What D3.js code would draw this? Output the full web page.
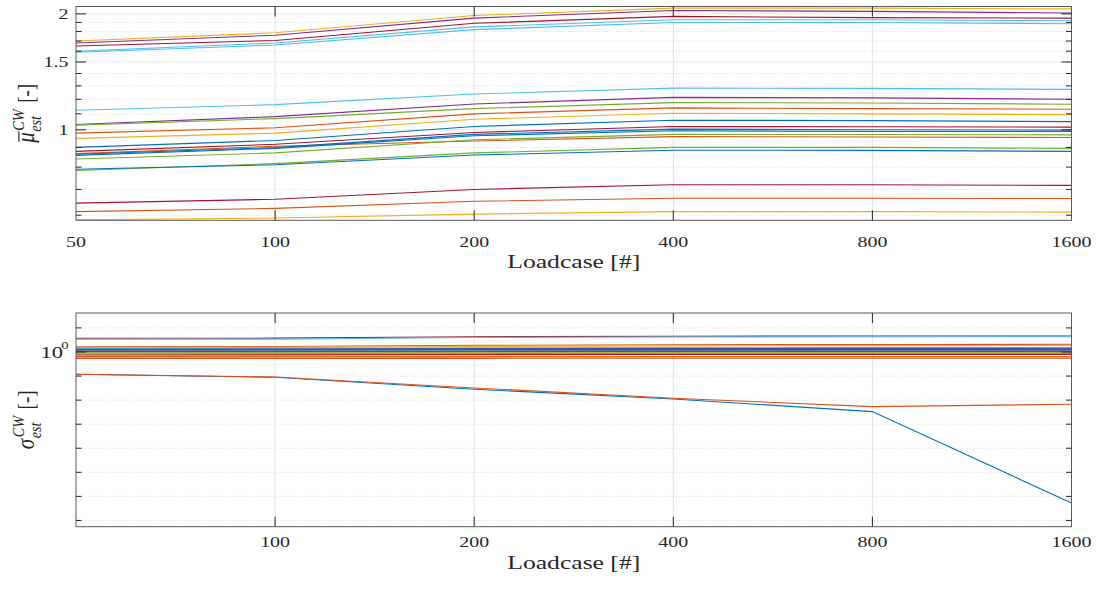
<!DOCTYPE html>
<html><head><meta charset="utf-8">
<script src="https://cdn.jsdelivr.net/npm/d3@7"></script>
<style>
body{margin:0;background:#fff;}
svg{display:block;}
text{font-family:"Liberation Serif","DejaVu Serif",serif;fill:#262626;}
</style>
</head><body>
<svg id="chart" width="1096" height="590"></svg>
<script>
// ---------- data ----------
const loadcases = [50, 100, 200, 400, 800, 1600];
const xTicksTop = [50, 100, 200, 400, 800, 1600];
const xTicksBottom = [100, 200, 400, 800, 1600];
const muMajorTicks = [1, 1.5, 2];
const muMinorTicks = [0.6, 0.7, 0.8, 0.9, 1.1, 1.2, 1.3, 1.4, 1.6, 1.7, 1.8, 1.9];
const sigmaMajorTicks = [1];
const sigmaMinorTicks = [1e1, 1e-1, 1e-2, 1e-3, 1e-4, 1e-5, 1e-6, 1e-7];
const xLabel = "Loadcase [#]";

const palette = ["#0072BD", "#D95319", "#EDB120", "#7E2F8E", "#77AC30", "#4DBEEE", "#A2142F"];

const muColorIdx = [2, 3, 6, 5, 5, 5, 3, 4, 1, 2, 0, 6, 1, 0, 0, 4, 4, 0, 6, 1, 2];
const muValues = [
  [1.70, 1.786, 1.98, 2.07, 2.07, 2.06],
  [1.68, 1.76, 1.95, 2.04, 2.03, 2.01],
  [1.65, 1.706, 1.89, 1.97, 1.955, 1.95],
  [1.60, 1.68, 1.85, 1.93, 1.93, 1.92],
  [1.59, 1.66, 1.82, 1.90, 1.90, 1.885],
  [1.124, 1.162, 1.238, 1.283, 1.281, 1.273],
  [1.032, 1.082, 1.167, 1.214, 1.21, 1.20],
  [1.028, 1.069, 1.135, 1.176, 1.174, 1.165],
  [0.98, 1.012, 1.10, 1.14, 1.135, 1.131],
  [0.95, 0.98, 1.065, 1.104, 1.10, 1.095],
  [0.90, 0.938, 1.02, 1.059, 1.056, 1.05],
  [0.879, 0.917, 0.984, 1.02, 1.018, 1.016],
  [0.867, 0.906, 0.935, 0.96, 0.958, 0.955],
  [0.864, 0.899, 0.973, 1.004, 1.0, 0.998],
  [0.858, 0.895, 0.965, 0.994, 0.99, 0.99],
  [0.840, 0.871, 0.942, 0.973, 0.972, 0.97],
  [0.784, 0.817, 0.871, 0.90, 0.90, 0.895],
  [0.79, 0.811, 0.86, 0.885, 0.884, 0.879],
  [0.645, 0.66, 0.70, 0.72, 0.72, 0.717],
  [0.613, 0.625, 0.652, 0.664, 0.664, 0.663],
  [0.584, 0.59, 0.604, 0.613, 0.613, 0.611]
];

const sigmaColorIdx = [0, 1, 6, 5, 1, 2, 5, 0, 3, 0, 6, 5, 3, 0, 4, 2, 4, 6, 1, 2, 1];
const sigmaValues = [
  [0.119, 0.0891, 0.0283, 0.0112, 0.00333, 5.3e-7],
  [0.119, 0.0918, 0.0321, 0.0120, 0.00537, 0.00676],
  [3.70, 3.75, 4.3, 4.5, 4.6, 4.6],
  [3.37, 3.42, 4.0, 4.2, 4.3, 4.3],
  [1.66, 1.68, 1.90, 2.0, 2.05, 2.09],
  [1.54, 1.56, 1.70, 1.80, 1.84, 1.86],
  [1.42, 1.43, 1.48, 1.52, 1.53, 1.54],
  [1.33, 1.34, 1.38, 1.40, 1.41, 1.42],
  [1.27, 1.28, 1.30, 1.32, 1.33, 1.33],
  [1.21, 1.22, 1.24, 1.26, 1.27, 1.27],
  [1.15, 1.16, 1.18, 1.20, 1.21, 1.21],
  [1.10, 1.11, 1.13, 1.14, 1.15, 1.15],
  [1.05, 1.06, 1.08, 1.09, 1.10, 1.10],
  [1.0, 1.01, 1.03, 1.04, 1.05, 1.05],
  [0.926, 0.93, 0.94, 0.95, 0.953, 0.953],
  [0.883, 0.888, 0.90, 0.905, 0.909, 0.909],
  [0.826, 0.835, 0.85, 0.86, 0.867, 0.867],
  [0.751, 0.76, 0.775, 0.785, 0.788, 0.788],
  [0.65, 0.65, 0.65, 0.65, 0.65, 0.65],
  [0.591, 0.595, 0.60, 0.602, 0.603, 0.603],
  [0.537, 0.54, 0.545, 0.547, 0.548, 0.548]
];

// ---------- layout ----------
const svg = d3.select("#chart");
const L = 76, R = 1071.5;
const TICK_FS = 15, SX = 1.33;
const x = d3.scaleLog().domain([50, 1600]).range([L, R]);

const panels = [
  {
    id: "mu", top: 6.5, bottom: 220.3, domain: [0.582, 2.09],
    values: muValues, colors: muColorIdx,
    major: muMajorTicks, minor: muMinorTicks, xticks: xTicksTop,
    labelBase: 246.7, xLabelBase: 268.3
  },
  {
    id: "sigma", top: 313, bottom: 526.7, domain: [Math.pow(10, -7.26), Math.pow(10, 1.62)],
    values: sigmaValues, colors: sigmaColorIdx,
    major: sigmaMajorTicks, minor: sigmaMinorTicks, xticks: xTicksBottom,
    labelBase: 546.7, xLabelBase: 568.5
  }
];

function stretchedText(g, px, py, str, anchor, fs, sx) {
  return g.append("text")
    .attr("transform", `translate(${px},${py}) scale(${sx},1)`)
    .attr("text-anchor", anchor)
    .attr("font-size", fs)
    .text(str);
}

panels.forEach(p => {
  const y = d3.scaleLog().domain(p.domain).range([p.bottom, p.top]);
  p.y = y;
  const g = svg.append("g");

  svg.append("clipPath").attr("id", "clip-" + p.id)
    .append("rect").attr("x", L).attr("y", p.top).attr("width", R - L).attr("height", p.bottom - p.top);

  // grid
  const grid = g.append("g");
  grid.selectAll("line.vx").data(p.xticks.filter(t => t > 50 && t < 1600)).join("line")
    .attr("x1", d => x(d)).attr("x2", d => x(d)).attr("y1", p.top).attr("y2", p.bottom)
    .attr("stroke", "#e2e2e2").attr("stroke-width", 1);
  grid.selectAll("line.my").data(p.minor).join("line")
    .attr("x1", L).attr("x2", R).attr("y1", d => y(d)).attr("y2", d => y(d))
    .attr("stroke", "#cfcfcf").attr("stroke-width", 0.8).attr("stroke-dasharray", "1,2");
  grid.selectAll("line.My").data(p.major).join("line")
    .attr("x1", L).attr("x2", R).attr("y1", d => y(d)).attr("y2", d => y(d))
    .attr("stroke", "#e6e6e6").attr("stroke-width", 1);

  // series
  const line = d3.line().x((d, i) => x(loadcases[i])).y(d => y(d));
  g.append("g").attr("clip-path", `url(#clip-${p.id})`)
    .selectAll("path").data(p.values).join("path")
    .attr("d", d => line(d))
    .attr("fill", "none")
    .attr("stroke", (d, i) => palette[p.colors[i]])
    .attr("stroke-width", 1.1);

  // box
  g.append("rect").attr("x", L).attr("y", p.top).attr("width", R - L).attr("height", p.bottom - p.top)
    .attr("fill", "none").attr("stroke", "#5a5a5a").attr("stroke-width", 1);

  // ticks
  const tk = g.append("g").attr("stroke", "#262626").attr("stroke-width", 1);
  p.xticks.filter(t => t > 50 && t < 1600).forEach(t => {
    tk.append("line").attr("x1", x(t)).attr("x2", x(t)).attr("y1", p.bottom).attr("y2", p.bottom - 10);
    tk.append("line").attr("x1", x(t)).attr("x2", x(t)).attr("y1", p.top).attr("y2", p.top + 10);
  });
  p.major.forEach(t => {
    tk.append("line").attr("x1", L).attr("x2", L + 10).attr("y1", y(t)).attr("y2", y(t));
    tk.append("line").attr("x1", R).attr("x2", R - 10).attr("y1", y(t)).attr("y2", y(t));
  });
  p.minor.forEach(t => {
    tk.append("line").attr("x1", L).attr("x2", L + 5.5).attr("y1", y(t)).attr("y2", y(t));
    tk.append("line").attr("x1", R).attr("x2", R - 5.5).attr("y1", y(t)).attr("y2", y(t));
  });

  // x tick labels
  p.xticks.forEach(t => stretchedText(g, x(t), p.labelBase, String(t), "middle", TICK_FS, SX));

  // x label
  g.append("text").attr("x", (L + R) / 2).attr("y", p.xLabelBase)
    .attr("text-anchor", "middle").attr("font-size", 18)
    .attr("textLength", 133).attr("lengthAdjust", "spacingAndGlyphs")
    .text(xLabel);
});

// y tick labels
const pm = panels[0], ps = panels[1];
pm.major.forEach(t => stretchedText(svg, 68.5, pm.y(t) + 5, String(t), "end", TICK_FS, SX));
ps.major.forEach(t => {
  stretchedText(svg, 63, ps.y(t) + 6, "10", "end", 17, SX);
  stretchedText(svg, 68.5, ps.y(t) - 2.5, "0", "end", 11, SX);
});

// y axis labels (rotated, with sub/superscripts)
function yLabel(cx, cy, sym, bar) {
  const outer = svg.append("g").attr("transform", `translate(${cx},${cy}) rotate(-90) scale(1,1.2)`);
  const g = outer.append("g");
  const fs = 21;
  const main = g.append("text").attr("x", 0).attr("y", 0).attr("font-size", fs).attr("font-style", "italic").text(sym);
  const w = main.node().getComputedTextLength();
  if (bar) {
    g.append("line").attr("x1", 1).attr("x2", w + 1).attr("y1", -fs * 0.6).attr("y2", -fs * 0.6)
      .attr("stroke", "#262626").attr("stroke-width", 1);
  }
  const sup = g.append("text").attr("x", w + 1.5).attr("y", -fs * 0.4).attr("font-size", fs * 0.68).attr("font-style", "italic").text("CW");
  const sub = g.append("text").attr("x", w + 0.5).attr("y", fs * 0.28).attr("font-size", fs * 0.68).attr("font-style", "italic").text("est");
  const sw = Math.max(sup.node().getComputedTextLength() + 1, sub.node().getComputedTextLength());
  const br = g.append("text").attr("x", w + sw + 7).attr("y", 0).attr("font-size", fs * 0.9).text("[-]");
  const total = w + sw + 7 + br.node().getComputedTextLength();
  g.attr("transform", `translate(${-total / 2},0)`);
}
yLabel(34, (pm.top + pm.bottom) / 2, "μ", true);
yLabel(34, (ps.top + ps.bottom) / 2, "σ", false);
</script>
</body></html>
